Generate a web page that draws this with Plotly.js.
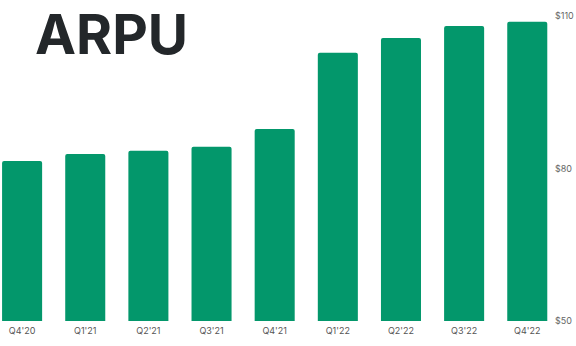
<!DOCTYPE html>
<html><head><meta charset="utf-8">
<script src="https://cdn.plot.ly/plotly-3.0.1.min.js"></script>
<style>html,body{margin:0;padding:0;background:#fff}#c{width:576px;height:346px}</style>
</head><body><div id="c"></div>
<script>
const quarters = ["Q4'20","Q1'21","Q2'21","Q3'21","Q4'21","Q1'22","Q2'22","Q3'22","Q4'22"];
const arpu = [81.5, 82.9, 83.5, 84.3, 87.8, 102.8, 105.7, 108.1, 108.9];
const yTicks = [50, 80, 110];
const yTickLabels = ["$50", "$80", "$110"];

Plotly.newPlot('c', [{
  type: 'bar', x: quarters, y: arpu,
  marker: {color: '#03976B', cornerradius: 2},
  hoverinfo: 'none'
}], {
  width: 576, height: 346,
  margin: {l: 0, r: 26, t: 0, b: 25},
  paper_bgcolor: '#fff', plot_bgcolor: '#fff',
  bargap: 0.366,
  showlegend: false,
  xaxis: {type: 'category', range: [-0.35, 8.36], showgrid: false, zeroline: false, showline: false,
    ticks: '', tickfont: {family: 'Inter, Roboto, sans-serif', size: 9, color: '#555'}, ticklabelstandoff: 3},
  yaxis: {side: 'right', range: [50, 113.2], tickvals: yTicks, ticktext: yTickLabels,
    showgrid: false, zeroline: false, showline: false, ticks: '',
    tickfont: {family: 'Inter, Roboto, sans-serif', size: 9, color: '#666'}, ticklabelstandoff: 4},
  annotations: [{text: '<b>ARPU</b>', xref: 'paper', yref: 'paper', x: 0.062, y: 1.0, xanchor: 'left', yanchor: 'top',
    yshift: 0, borderpad: 0, showarrow: false, font: {family: 'Inter, sans-serif', size: 55, color: '#23272a'}}]
}, {staticPlot: true});
</script></body></html>
